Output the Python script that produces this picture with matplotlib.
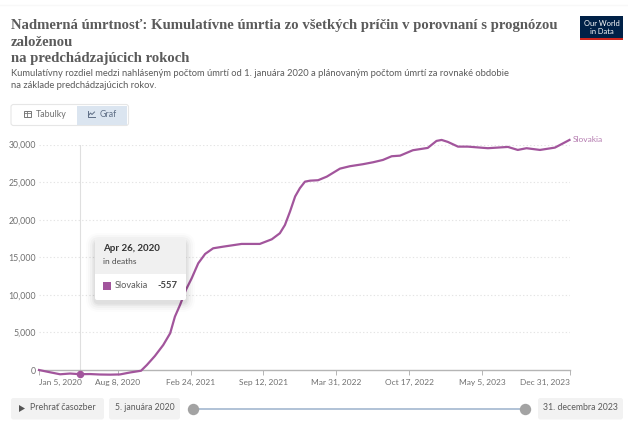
import matplotlib
matplotlib.use("Agg")
import matplotlib.pyplot as plt
import matplotlib.patches as mp
import pandas as pd

# ---- data -------------------------------------------------------------
start_date = "2020-01-05"
days_since_start = [0, 30, 58, 85, 112, 140, 167, 195, 222, 250, 280, 296, 318, 341, 360, 373,
                    387, 403, 419, 437, 456, 478, 506, 556, 606, 639, 661, 675, 689, 703, 716,
                    730, 744, 766, 790, 826, 853, 889, 917, 944, 968, 991, 1026, 1067, 1091,
                    1105, 1122, 1150, 1177, 1232, 1287, 1314, 1338, 1375, 1416, 1456]
slovakia = [0, -300, -570, -470, -557, -540, -600, -620, -590, -330, -100, 665, 1860, 3330, 4890,
            7100, 8650, 10650, 12200, 14200, 15450, 16200, 16420, 16780, 16780, 17400, 18200,
            19300, 21100, 23100, 24200, 25070, 25200, 25260, 25740, 26800, 27120, 27390, 27650,
            27960, 28450, 28530, 29250, 29560, 30490, 30620, 30360, 29730, 29730, 29520, 29690,
            29290, 29520, 29290, 29600, 30620]
y_ticks = [0, 5000, 10000, 15000, 20000, 25000, 30000]
x_tick_dates = ["2020-01-05", "2020-08-08", "2021-02-24", "2021-09-12",
                "2022-03-31", "2022-10-17", "2023-05-05", "2023-12-31"]
x_tick_labels = ["Jan 5, 2020", "Aug 8, 2020", "Feb 24, 2021", "Sep 12, 2021",
                 "Mar 31, 2022", "Oct 17, 2022", "May 5, 2023", "Dec 31, 2023"]
hover_date = "2020-04-26"
hover_value = -557
title_lines = ["Nadmerná úmrtnosť: Kumulatívne úmrtia zo všetkých príčin v porovnaní s prognózou",
               "založenou", "na predchádzajúcich rokoch"]
subtitle_lines = ["Kumulatívny rozdiel medzi nahláseným počtom úmrtí od 1. januára 2020 a plánovaným počtom úmrtí za rovnaké obdobie",
                  "na základe predchádzajúcich rokov."]

# ---- setup ------------------------------------------------------------
W, H = 628, 425
plt.rcParams["font.family"] = ["Lato", "DejaVu Sans"]
fig = plt.figure(figsize=(W / 100, H / 100), dpi=100, facecolor="white")
PURPLE = "#A2559C"
GREY = "#5b5b5b"
TICK = "#707070"

L, R, T, B = 39, 569.5, 144.6, 370
ax = fig.add_axes([L / W, 1 - B / H, (R - L) / W, (B - T) / H])
ax.patch.set_alpha(0)
dates = pd.Timestamp(start_date) + pd.to_timedelta(days_since_start, unit="D")
tick_dates = pd.to_datetime(x_tick_dates)
ax.set_xlim(tick_dates[0], tick_dates[-1])
ax.set_ylim(0, 30000)
for s in ax.spines.values():
    s.set_visible(False)
ax.spines["bottom"].set_visible(True)
ax.spines["bottom"].set_color("#b5b5b5")
ax.spines["bottom"].set_linewidth(1)
ax.set_yticks(y_ticks, [f"{v:,}" for v in y_ticks])
ax.tick_params(axis="y", length=0, labelsize=6.3, labelcolor=TICK, pad=2)
ax.set_xticks(tick_dates, [])
ax.tick_params(axis="x", length=3.5, width=0.7, color="#b5b5b5", direction="out")
aligns = ["left"] + ["center"] * 6 + ["right"]
for d, lab, ha in zip(tick_dates, x_tick_labels, aligns):
    ax.annotate(lab, (d, 0), xytext=(0, -12.5), xycoords=("data", "data"),
                textcoords="offset pixels", ha=ha, va="center", fontsize=6.0, color=TICK)
ax.grid(False)
for v in y_ticks[1:]:
    ax.axhline(v, color="#e4e4e4", lw=0.8, ls=(0, (1.2, 2)), zorder=1)
ax.axvline(pd.Timestamp(hover_date), color="#dfdfdf", lw=0.8, zorder=1)
ax.plot(dates, slovakia, color=PURPLE, lw=1.6, clip_on=False, zorder=3, solid_joinstyle="round")
ax.plot([pd.Timestamp(hover_date)], [hover_value], "o", color=PURPLE, ms=4.4, clip_on=False, zorder=4)
ax.annotate("Slovakia", (dates[-1], slovakia[-1]), xytext=(3, 0), textcoords="offset pixels",
            ha="left", va="center", fontsize=6.0, color="#b57cb0", annotation_clip=False)

# ---- overlay, in pixels -----------------------------------------------
ov = fig.add_axes([0, 0, 1, 1], zorder=10)
ov.set_xlim(0, W)
ov.set_ylim(H, 0)
ov.axis("off")
ov.patch.set_alpha(0)


def box(x0, y0, x1, y1, fc, ec="none", r=2.5, lw=0.8, z=2, alpha=1):
    p = mp.FancyBboxPatch((x0 + r, y0 + r), x1 - x0 - 2 * r, y1 - y0 - 2 * r,
                          boxstyle=f"round,pad={r},rounding_size={r}", fc=fc, ec=ec, lw=lw,
                          zorder=z, alpha=alpha)
    ov.add_patch(p)
    return p


# title, subtitle
ov.plot([0, W], [5, 5], color="#f8f8f8", lw=1, zorder=1)
for txt, y in zip(title_lines, [25, 42, 58]):
    ov.text(11, y, txt, family="Liberation Serif", weight="bold", fontsize=10.6, color=GREY,
            va="center", ha="left", zorder=3)
for txt, y in zip(subtitle_lines, [73.5, 85.5]):
    ov.text(11, y, txt, fontsize=6.75, color=GREY, va="center", ha="left", zorder=3)

# logo
ov.add_patch(mp.Rectangle((580, 16), 43, 22, fc="#002147", ec="none", zorder=3))
ov.add_patch(mp.Rectangle((580, 38), 43, 2, fc="#ce261e", ec="none", zorder=3))
ov.text(601.5, 23, "Our World", color="white", fontsize=5.4, ha="center", va="center", zorder=4)
ov.text(601.5, 31.5, "in Data", color="white", fontsize=5.4, ha="center", va="center", zorder=4)

# tabs
box(11, 104.5, 128.5, 125.5, "white", ec="#e6e6e6")
ov.add_patch(mp.Rectangle((76.5, 106), 50.5, 18.5, fc="#dbe5f0", ec="none", zorder=3))
ov.add_patch(mp.Rectangle((23.5, 110.5), 7.5, 6.5, fc="none", ec="#777777", lw=0.7, zorder=4))
ov.plot([23.5, 31], [113, 113], color="#777777", lw=0.6, zorder=4)
ov.plot([27, 27], [110.5, 117], color="#777777", lw=0.6, zorder=4)
ov.plot([87.5, 87.5, 95], [110.5, 117, 117], color="#5f6f86", lw=0.7, zorder=4)
ov.plot([88.5, 90.5, 92, 94.5], [115.5, 113, 114.5, 112], color="#5f6f86", lw=0.7, zorder=4)
ov.text(35.5, 114, "Tabulky", fontsize=6.4, color=TICK, va="center", zorder=4)
ov.text(99.5, 114, "Graf", fontsize=6.4, color="#5f6f86", va="center", zorder=4)

# tooltip
for grow, a in [(9, 0.012), (7, 0.018), (5, 0.025), (3, 0.03), (1.5, 0.04)]:
    box(95 - grow, 239 - grow + 3, 186 + grow, 300 + grow + 3, "black", r=4 + grow, z=5, alpha=a)
box(95, 239, 186, 300, "white", r=2, z=6)
box(95, 239, 186, 273, "#f0f0f0", r=2, z=6)
ov.add_patch(mp.Rectangle((95, 268), 91, 5.5, fc="#f0f0f0", ec="none", zorder=6))
ov.text(103, 248.7, "Apr 26, 2020", fontsize=7.0, weight="bold", color="#333333", va="center", zorder=7)
ov.text(103, 262, "in deaths", fontsize=6.0, color="#4a4a4a", va="center", zorder=7)
ov.add_patch(mp.Rectangle((103, 281.5), 7.5, 8, fc=PURPLE, ec="none", zorder=7))
ov.text(115, 286, "Slovakia", fontsize=6.7, color=GREY, va="center", zorder=7)
ov.text(177, 286, "-557", fontsize=6.8, weight="bold", color="#444444", va="center", ha="right", zorder=7)

# timeline controls
box(11, 398, 104, 419.5, "#f2f2f2")
ov.add_patch(mp.Polygon([(19, 405), (19, 412), (25, 408.5)], fc="#555555", ec="none", zorder=3))
ov.text(30.5, 408, "Prehrať časozber", fontsize=6.4, color=GREY, va="center", zorder=3)
box(109, 398, 180, 419.5, "#f2f2f2")
ov.text(144.5, 408, "5. januára 2020", fontsize=6.2, color=GREY, va="center", ha="center", zorder=3)
box(538, 398, 623, 419.5, "#f2f2f2")
ov.text(580.5, 408, "31. decembra 2023", fontsize=6.3, color=GREY, va="center", ha="center", zorder=3)
ov.plot([193, 524.5], [408.5, 408.5], color="#aabdd3", lw=1.3, zorder=2)
ov.plot([193, 524.5], [408.5, 408.5], "o", color="#a3a3a3", ms=8.2, mec="none", zorder=3)

fig.savefig("out.png", dpi=100)
